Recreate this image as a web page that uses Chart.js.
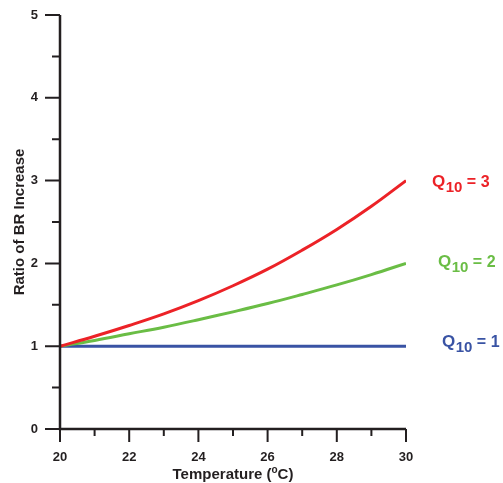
<!DOCTYPE html>
<html>
<head>
<meta charset="utf-8">
<script src="https://cdn.jsdelivr.net/npm/chart.js@4/dist/chart.umd.min.js"></script>
<style>
html,body{margin:0;padding:0;background:#fff;}
#wrap{width:503px;height:483px;position:relative;}
</style>
</head>
<body>
<div id="wrap"><canvas id="c" width="503" height="483"></canvas></div>
<script>
const temperatures = [20, 21, 22, 23, 24, 25, 26, 27, 28, 29, 30];
const q10_3 = [1.00, 1.12, 1.25, 1.39, 1.55, 1.73, 1.93, 2.16, 2.41, 2.69, 3.00];
const q10_2 = [1.00, 1.07, 1.15, 1.23, 1.32, 1.415, 1.515, 1.625, 1.74, 1.865, 2.00];
const q10_1 = [1.00, 1.00, 1.00, 1.00, 1.00, 1.00, 1.00, 1.00, 1.00, 1.00, 1.00];
const seriesLabels = ['3', '2', '1'];
const xTickLabels = [20, 22, 24, 26, 28, 30];
const yTickLabels = [0, 1, 2, 3, 4, 5];
const xMinorTicks = [21, 23, 25, 27, 29];
const yMinorTicks = [0.5, 1.5, 2.5, 3.5, 4.5];

const RED = '#ec2227', GREEN = '#6abd45', BLUE = '#3953a4', AXIS = '#231f20';
const FONT = '"Liberation Sans", Arial, Helvetica, sans-serif';

function pts(vals) { return temperatures.map((t, i) => ({x: t, y: vals[i]})); }

const axisPlugin = {
  id: 'axisPlugin',
  afterDraw(chart) {
    const ctx = chart.ctx, xs = chart.scales.x, ys = chart.scales.y;
    const x0 = xs.getPixelForValue(20), x1 = xs.getPixelForValue(30);
    const y0 = ys.getPixelForValue(0), y1 = ys.getPixelForValue(5);
    ctx.save();
    ctx.strokeStyle = AXIS;
    ctx.lineWidth = 2.5;
    ctx.lineCap = 'butt';
    ctx.beginPath();
    ctx.moveTo(x0, y1); ctx.lineTo(x0, y0 + 1.25);
    ctx.moveTo(x0 - 1.25, y0); ctx.lineTo(x1, y0);
    ctx.stroke();
    ctx.lineWidth = 2;
    ctx.beginPath();
    xTickLabels.forEach(v => { const p = xs.getPixelForValue(v); ctx.moveTo(p, y0); ctx.lineTo(p, y0 + 13); });
    xMinorTicks.forEach(v => { const p = xs.getPixelForValue(v); ctx.moveTo(p, y0); ctx.lineTo(p, y0 + 7); });
    yTickLabels.forEach(v => { const p = ys.getPixelForValue(v); ctx.moveTo(x0, p); ctx.lineTo(x0 - 15, p); });
    yMinorTicks.forEach(v => { const p = ys.getPixelForValue(v); ctx.moveTo(x0, p); ctx.lineTo(x0 - 8, p); });
    ctx.stroke();

    // x title with superscript o
    ctx.fillStyle = AXIS;
    ctx.textBaseline = 'alphabetic';
    const big = 'bold 15px ' + FONT, small = 'bold 10px ' + FONT;
    const parts = [['Temperature (', big, 0], ['o', small, -6], ['C)', big, 0]];
    let w = 0;
    parts.forEach(p => { ctx.font = p[1]; w += ctx.measureText(p[0]).width; });
    let cx = (x0 + x1) / 2 - w / 2;
    const by = 479;
    parts.forEach(p => { ctx.font = p[1]; ctx.fillText(p[0], cx, by + p[2]); cx += ctx.measureText(p[0]).width; });

    // series labels Q10 = n
    const labs = [[seriesLabels[0], RED, 432, 187], [seriesLabels[1], GREEN, 438, 267], [seriesLabels[2], BLUE, 442, 347]];
    labs.forEach(([n, col, lx, ly]) => {
      ctx.fillStyle = col;
      let px = lx;
      ctx.font = 'bold 17px ' + FONT; ctx.fillText('Q', px, ly); px += ctx.measureText('Q').width + 0.5;
      ctx.font = 'bold 15px ' + FONT; ctx.fillText('10', px, ly + 5); px += ctx.measureText('10').width;
      ctx.font = 'bold 16px ' + FONT; ctx.fillText(' = ' + n, px, ly);
    });
    ctx.restore();
  }
};

new Chart(document.getElementById('c'), {
  type: 'line',
  data: {
    datasets: [
      {data: pts(q10_3), borderColor: RED, borderWidth: 3, pointRadius: 0, tension: 0.4, fill: false},
      {data: pts(q10_2), borderColor: GREEN, borderWidth: 3, pointRadius: 0, tension: 0.4, fill: false},
      {data: pts(q10_1), borderColor: BLUE, borderWidth: 3, pointRadius: 0, tension: 0, fill: false}
    ]
  },
  options: {
    responsive: false,
    animation: false,
    events: [],
    layout: {padding: {top: 15, right: 97, left: 0, bottom: 0}},
    plugins: {legend: {display: false}, tooltip: {enabled: false}},
    scales: {
      x: {
        type: 'linear', min: 20, max: 30,
        afterBuildTicks: s => { s.ticks = xTickLabels.map(v => ({value: v})); },
        afterFit: s => { s.height = 54; s.paddingLeft = 0; s.paddingRight = 0; },
        grid: {display: false, drawTicks: false, tickLength: 0}, border: {display: false},
        ticks: {color: AXIS, padding: 21, font: {family: FONT, size: 13, weight: 'bold'}, maxRotation: 0}
      },
      y: {
        type: 'linear', min: 0, max: 5,
        afterBuildTicks: s => { s.ticks = yTickLabels.map(v => ({value: v})); },
        afterFit: s => { s.width = 60; s.paddingTop = 0; s.paddingBottom = 0; },
        grid: {display: false, drawTicks: false, tickLength: 0}, border: {display: false},
        ticks: {color: AXIS, padding: 22, font: {family: FONT, size: 13, weight: 'bold'}},
        title: {display: true, text: 'Ratio of BR Increase', color: AXIS, padding: {top: 11, bottom: 0}, font: {family: FONT, size: 15, weight: 'bold'}}
      }
    }
  },
  plugins: [axisPlugin]
});
</script>
</body>
</html>
